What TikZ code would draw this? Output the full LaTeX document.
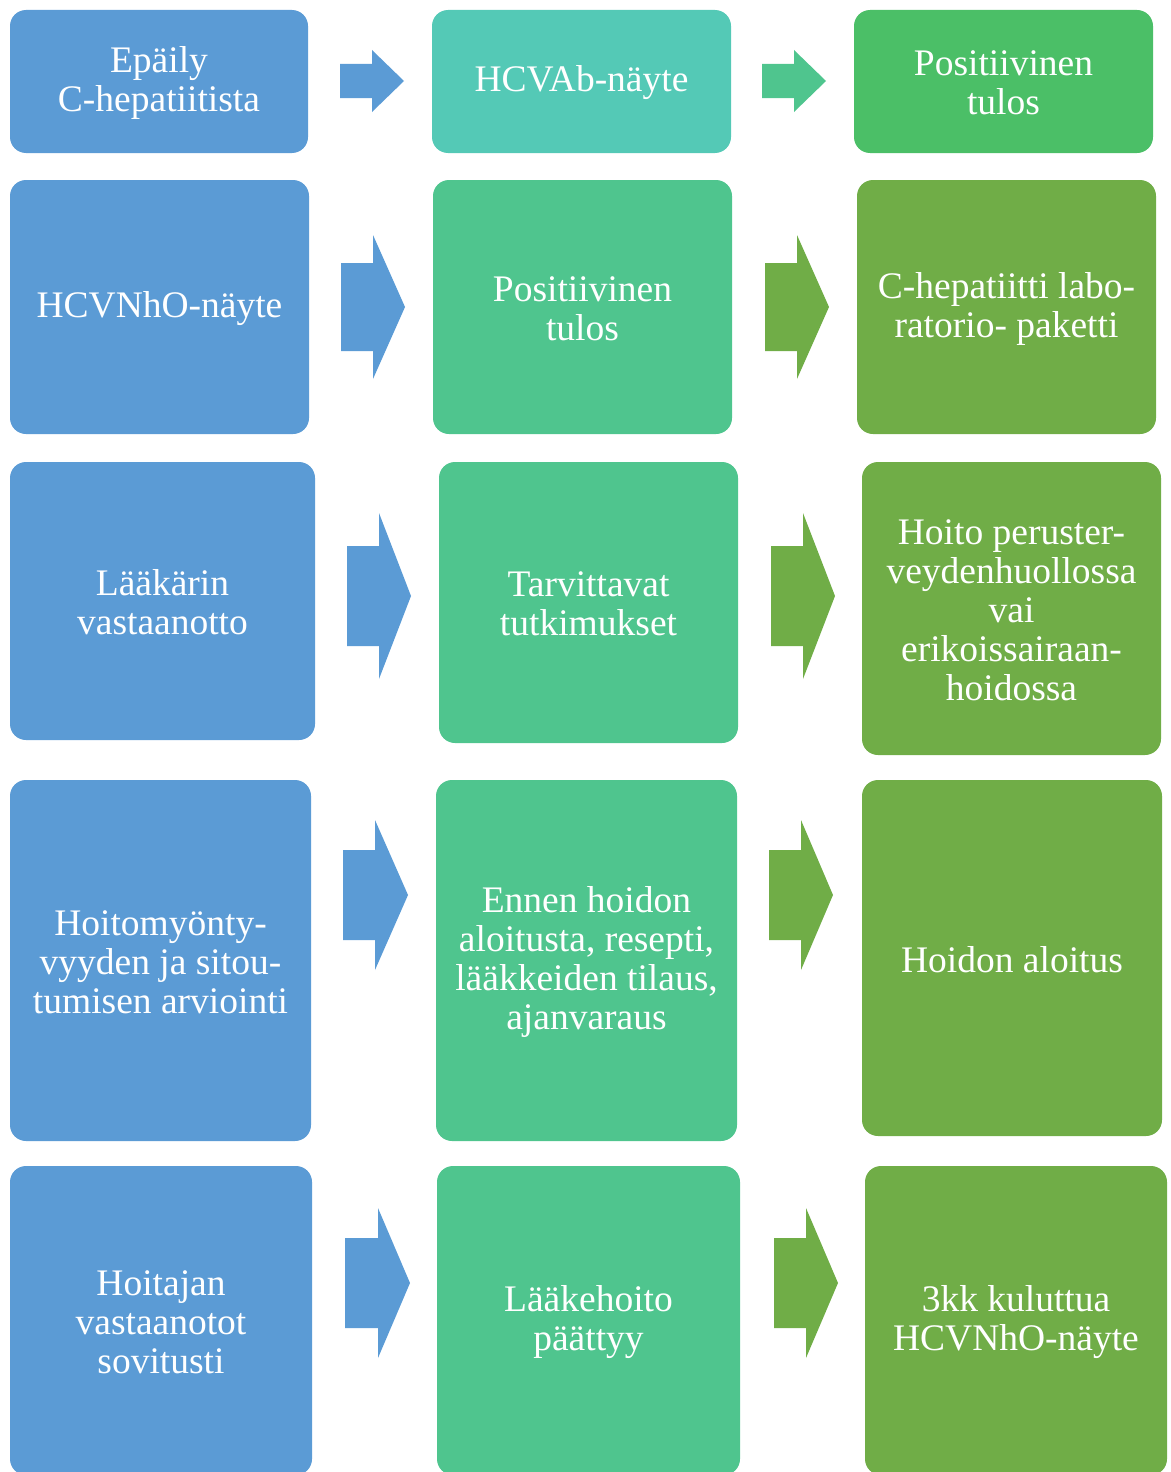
\documentclass[tikz,border=0pt]{standalone}
\usepackage{fontspec}
\setmainfont{Liberation Serif}
\definecolor{cBlue}{HTML}{5B9BD5}
\definecolor{cTeal}{HTML}{54C9B6}
\definecolor{cGreenA}{HTML}{4BBF67}
\definecolor{cMint}{HTML}{4FC58E}
\definecolor{cOlive}{HTML}{70AD47}
\tikzset{
  box/.style={rounded corners=16pt, inner sep=0pt},
  txt/.style={inner sep=0pt, text=white, align=center, yshift=-1.5pt,
    font=\fontsize{37.5}{39}\selectfont},
}
% block arrow: color, x1, xh, x2, yc, half head, half shaft
\newcommand{\blockarr}[7]{%
  \fill[#1] (#2,#5-#7) -- (#3,#5-#7) -- (#3,#5-#6) -- (#4,#5) -- (#3,#5+#6) -- (#3,#5+#7) -- (#2,#5+#7) -- cycle;}
\begin{document}
\begin{tikzpicture}[x=1pt,y=-1pt]
\useasboundingbox (0,0) rectangle (1170,1472);
\clip (0,0) rectangle (1170,1472);
% row 1
\node[box, fill=cBlue,  minimum width=298, minimum height=143] (b11) at (159,81.5) {};
\node[box, fill=cTeal,  minimum width=299, minimum height=143] (b12) at (581.5,81.5) {};
\node[box, fill=cGreenA,minimum width=299, minimum height=143] (b13) at (1003.5,81.5) {};
\node[txt] (t11) at (b11.center) {Epäily\\C-hepatiitista};
\node[txt] (t12) at (b12.center) {HCVAb-näyte};
\node[txt] (t13) at (b13.center) {Positiivinen\\tulos};
\blockarr{cBlue}{340}{372}{404}{81}{31}{17}
\blockarr{cMint}{762}{794}{826}{81}{31}{17}
% row 2
\node[box, fill=cBlue,  minimum width=299, minimum height=254] (b21) at (159.5,307) {};
\node[box, fill=cMint,  minimum width=299, minimum height=254] (b22) at (582.5,307) {};
\node[box, fill=cOlive, minimum width=299, minimum height=254] (b23) at (1006.5,307) {};
\node[txt] (t21) at (b21.center) {HCVNhO-näyte};
\node[txt] (t22) at (b22.center) {Positiivinen\\tulos};
\node[txt] (t23) at (b23.center) {C-hepatiitti labo-\\ratorio- paketti};
\blockarr{cBlue}{341}{373}{405}{307}{72}{44}
\blockarr{cOlive}{765}{797}{829}{307}{72}{44}
% row 3
\node[box, fill=cBlue,  minimum width=305, minimum height=278] (b31) at (162.5,601) {};
\node[box, fill=cMint,  minimum width=299, minimum height=281] (b32) at (588.5,602.5) {};
\node[box, fill=cOlive, minimum width=299, minimum height=293] (b33) at (1011.5,608.5) {};
\node[txt] (t31) at (b31.center) {Lääkärin\\vastaanotto};
\node[txt] (t32) at (b32.center) {Tarvittavat\\tutkimukset};
\node[txt] (t33) at (b33.center) {Hoito peruster-\\veydenhuollossa\\vai\\erikoissairaan-\\hoidossa};
\blockarr{cBlue}{347}{379}{411}{596}{83}{50}
\blockarr{cOlive}{771}{803}{835}{596}{83}{50}
% row 4
\node[box, fill=cBlue,  minimum width=301, minimum height=361] (b41) at (160.5,960.5) {};
\node[box, fill=cMint,  minimum width=301, minimum height=361] (b42) at (586.5,960.5) {};
\node[box, fill=cOlive, minimum width=300, minimum height=356] (b43) at (1012,958) {};
\node[txt] (t41) at (b41.center) {Hoitomyönty-\\vyyden ja sitou-\\tumisen arviointi};
\node[txt] (t42) at (b42.center) {Ennen hoidon\\aloitusta, resepti,\\lääkkeiden tilaus,\\ajanvaraus};
\node[txt] (t43) at (b43.center) {Hoidon aloitus};
\blockarr{cBlue}{343}{375}{408}{895}{75}{45}
\blockarr{cOlive}{769}{801}{833}{895}{75}{45}
% row 5
\node[box, fill=cBlue,  minimum width=302, minimum height=309] (b51) at (161,1320.5) {};
\node[box, fill=cMint,  minimum width=303, minimum height=309] (b52) at (588.5,1320.5) {};
\node[box, fill=cOlive, minimum width=302, minimum height=309] (b53) at (1016,1320.5) {};
\node[txt] (t51) at (b51.center) {Hoitajan\\vastaanotot\\sovitusti};
\node[txt] (t52) at (b52.center) {Lääkehoito\\päättyy};
\node[txt] (t53) at (b53.center) {3kk kuluttua\\HCVNhO-näyte};
\blockarr{cBlue}{345}{378}{410}{1283}{75}{45}
\blockarr{cOlive}{774}{806}{838}{1283}{75}{45}
\end{tikzpicture}
\end{document}
